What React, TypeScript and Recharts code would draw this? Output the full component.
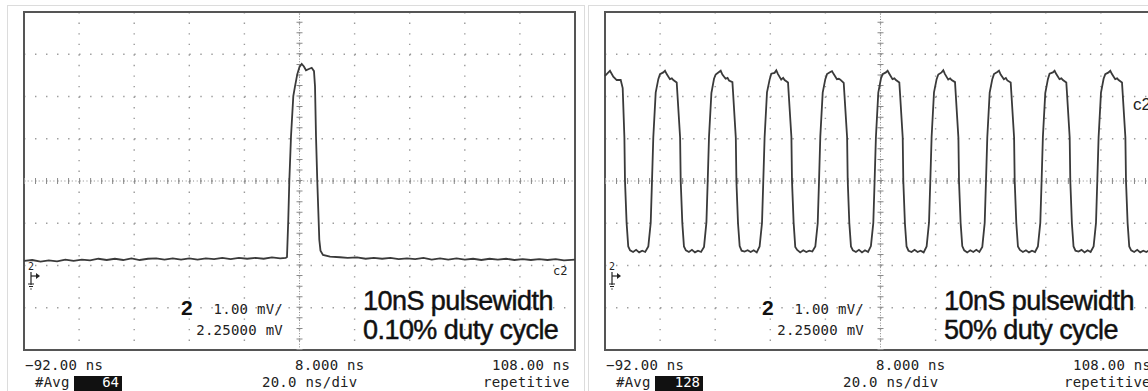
import { LineChart, Line, XAxis, YAxis, CartesianGrid, ReferenceLine, ReferenceArea } from 'recharts';

// 20 ns/div, centred on 8 ns; 1 mV/div, offset 2.25 mV
const timeTicks = [-92, -72, -52, -32, -12, 8, 28, 48, 68, 88, 108];
const voltTicks = [-1.75, -0.75, 0.25, 1.25, 2.25, 3.25, 4.25, 5.25, 6.25];

// single 10 ns pulse, 0.10% duty (ns, mV)
const lowDutyTrace: [number, number][] = [
  [-92, 0.36], [-89, 0.38], [-86, 0.34], [-83, 0.37], [-80, 0.35], [-77, 0.39], [-74, 0.36],
  [-71, 0.39], [-68, 0.37], [-65, 0.41], [-62, 0.38], [-59, 0.41], [-56, 0.38], [-53, 0.42],
  [-50, 0.38], [-47, 0.41], [-44, 0.42], [-41, 0.39], [-38, 0.42], [-35, 0.39], [-32, 0.42],
  [-29, 0.39], [-26, 0.42], [-23, 0.40], [-20, 0.43], [-17, 0.40], [-14, 0.43], [-11, 0.41],
  [-8, 0.43], [-5, 0.41], [-2, 0.44], [1, 0.42], [3.0, 0.43],
  [3.46, 0.45], [3.93, 1.34], [4.3, 2.24], [4.92, 3.31], [5.75, 4.26], [6.37, 4.49], [7.2, 4.78],
  [8.0, 4.95], [8.8, 5.02], [9.6, 4.96], [10.36, 4.87], [11.4, 4.9], [12.43, 4.93], [13.26, 4.85],
  [13.63, 4.49], [13.99, 3.31], [14.46, 2.24], [15.19, 0.86], [15.62, 0.6], [16.53, 0.5],
  [19.07, 0.46], [22.7, 0.445], [25.5, 0.43], [28.87, 0.44],
  [32, 0.41], [35, 0.43], [38, 0.41], [41, 0.43], [44, 0.40], [47, 0.42], [50, 0.40], [53, 0.43],
  [56, 0.39], [59, 0.42], [62, 0.39], [65, 0.42], [68, 0.39], [71, 0.41], [74, 0.38], [77, 0.41],
  [80, 0.39], [83, 0.41], [86, 0.38], [89, 0.40], [92, 0.38], [95, 0.40], [98, 0.38], [101, 0.40],
  [104, 0.37], [108, 0.39],
];

// 10 ns pulses, 50% duty (ns, mV)
const halfDutyTrace: [number, number][] = [
  [-92, 4.74], [-91.38, 4.78], [-90.19, 4.86], [-88.99, 4.72], [-87.75, 4.64], [-86.3, 4.64],
  [-85.58, 4.45], [-84.96, 3.28], [-84.74, 2.25], [-84.16, 1.26], [-83.56, 0.7],
  [-82.9, 0.61], [-81.8, 0.57], [-80.7, 0.62], [-79.6, 0.56], [-78.5, 0.6], [-77.4, 0.57],
  // cycle 1
  [-76.28, 0.7], [-75.41, 1.26], [-74.94, 2.25], [-74.47, 3.28], [-73.6, 4.34], [-72.65, 4.66],
  [-72.04, 4.78], [-70.84, 4.82], [-70.22, 4.86], [-69.61, 4.78], [-68.44, 4.66], [-67.74, 4.68],
  [-67.2, 4.64], [-65.97, 4.58], [-65.74, 4.34], [-64.74, 3.28], [-64.52, 2.25], [-63.94, 1.26],
  [-63.34, 0.7], [-62.64, 0.61], [-61.54, 0.57], [-60.44, 0.62], [-59.34, 0.56], [-58.24, 0.6],
  [-57.14, 0.57],
  // cycle 2
  [-56.06, 0.69], [-55.19, 1.27], [-54.72, 2.25], [-54.25, 3.29], [-53.38, 4.33], [-52.43, 4.67],
  [-51.82, 4.77], [-50.62, 4.83], [-50.0, 4.86], [-49.39, 4.77], [-48.22, 4.67], [-47.52, 4.69],
  [-46.98, 4.63], [-45.75, 4.59], [-45.52, 4.35], [-44.52, 3.27], [-44.3, 2.24], [-43.72, 1.25],
  [-43.12, 0.71], [-42.42, 0.6], [-41.32, 0.58], [-40.22, 0.61], [-39.12, 0.57], [-38.02, 0.61],
  [-36.92, 0.56],
  // cycle 3
  [-35.88, 0.7], [-35.01, 1.26], [-34.54, 2.26], [-34.07, 3.28], [-33.2, 4.35], [-32.25, 4.65],
  [-31.64, 4.79], [-30.44, 4.81], [-29.82, 4.87], [-29.21, 4.78], [-28.04, 4.65], [-27.34, 4.69],
  [-26.8, 4.64], [-25.57, 4.58], [-25.34, 4.34], [-24.34, 3.29], [-24.12, 2.25], [-23.54, 1.27],
  [-22.94, 0.69], [-22.24, 0.62], [-21.14, 0.56], [-20.04, 0.61], [-18.94, 0.57], [-17.84, 0.6],
  [-16.74, 0.58],
  // cycle 4
  [-15.66, 0.7], [-14.79, 1.25], [-14.32, 2.24], [-13.85, 3.3], [-12.98, 4.34], [-12.03, 4.66],
  [-11.42, 4.78], [-10.22, 4.83], [-9.6, 4.85], [-8.99, 4.78], [-7.82, 4.66], [-7.12, 4.67],
  [-6.58, 4.65], [-5.35, 4.57], [-5.12, 4.33], [-4.12, 3.28], [-3.9, 2.26], [-3.32, 1.26],
  [-2.72, 0.7], [-2.02, 0.61], [-0.92, 0.57], [0.18, 0.62], [1.28, 0.56], [2.38, 0.61],
  [3.48, 0.57],
  // cycle 5
  [4.52, 0.71], [5.39, 1.26], [5.86, 2.25], [6.33, 3.28], [7.2, 4.34], [8.15, 4.67],
  [8.76, 4.78], [9.96, 4.82], [10.58, 4.86], [11.19, 4.79], [12.36, 4.66], [13.06, 4.68],
  [13.6, 4.64], [14.83, 4.58], [15.06, 4.35], [16.06, 3.28], [16.28, 2.25], [16.86, 1.25],
  [17.46, 0.7], [18.16, 0.6], [19.26, 0.57], [20.36, 0.62], [21.46, 0.57], [22.56, 0.6],
  [23.66, 0.56],
  // cycle 6
  [24.74, 0.7], [25.61, 1.27], [26.08, 2.25], [26.55, 3.29], [27.42, 4.35], [28.37, 4.66],
  [28.98, 4.77], [30.18, 4.82], [30.8, 4.87], [31.41, 4.78], [32.58, 4.65], [33.28, 4.68],
  [33.82, 4.64], [35.05, 4.59], [35.28, 4.34], [36.28, 3.27], [36.5, 2.24], [37.08, 1.26],
  [37.68, 0.71], [38.38, 0.61], [39.48, 0.56], [40.58, 0.61], [41.68, 0.57], [42.78, 0.62],
  [43.88, 0.57],
  // cycle 7
  [44.95, 0.69], [45.82, 1.26], [46.29, 2.25], [46.76, 3.28], [47.63, 4.34], [48.58, 4.66],
  [49.19, 4.78], [50.39, 4.83], [51.01, 4.86], [51.62, 4.77], [52.79, 4.66], [53.49, 4.69],
  [54.03, 4.63], [55.26, 4.58], [55.49, 4.34], [56.49, 3.28], [56.71, 2.25], [57.29, 1.26],
  [57.89, 0.7], [58.59, 0.62], [59.69, 0.57], [60.79, 0.61], [61.89, 0.56], [62.99, 0.6],
  [64.09, 0.57],
  // cycle 8
  [65.13, 0.7], [66.0, 1.26], [66.47, 2.24], [66.94, 3.29], [67.81, 4.33], [68.76, 4.66],
  [69.37, 4.79], [70.57, 4.82], [71.19, 4.86], [71.8, 4.78], [72.97, 4.66], [73.67, 4.68],
  [74.21, 4.64], [75.44, 4.58], [75.67, 4.35], [76.67, 3.28], [76.89, 2.26], [77.47, 1.25],
  [78.07, 0.7], [78.77, 0.6], [79.87, 0.58], [80.97, 0.62], [82.07, 0.56], [83.17, 0.61],
  [84.27, 0.57],
  // cycle 9
  [85.35, 0.7], [86.22, 1.26], [86.69, 2.25], [87.16, 3.28], [88.03, 4.34], [88.98, 4.67],
  [89.59, 4.78], [90.79, 4.82], [91.41, 4.86], [92.02, 4.78], [93.19, 4.66], [93.89, 4.68],
  [94.43, 4.64], [95.66, 4.58], [95.89, 4.34], [96.89, 3.28], [97.11, 2.25], [97.69, 1.26],
  [98.29, 0.7], [98.99, 0.61], [100.09, 0.57], [101.19, 0.62], [102.29, 0.56], [103.39, 0.6],
  [104.49, 0.57], [105.59, 0.61], [106.69, 0.57], [108, 0.6],
];

const mono = '"DejaVu Sans Mono", monospace';
const sans = '"Liberation Sans", Arial, sans-serif';
const ink = '#3a3a3a';
const dots = '#9a9a9a';

type PanelProps = {
  left: number;
  trace: [number, number][];
  avgCount: string;
  dutyLabel: string;
  tagY: number;
  tagBig: boolean;
};

function ScopePanel({ left, trace, avgCount, dutyLabel, tagY, tagBig }: PanelProps) {
  const data = trace.map(([t, v]) => ({ t, v }));
  return (
    <div style={{ position: 'absolute', left, top: 0, width: 600, height: 391 }}>
      <svg width={600} height={391} style={{ position: 'absolute', left: 0, top: 0 }}>
        <rect x={7.5} y={5.5} width={577} height={420} fill="none" stroke="#dcdcdc" />
      </svg>
      <div style={{ position: 'absolute', left: 0, top: 0 }}>
        <LineChart width={600} height={391} data={data} margin={{ top: 12, right: 25, bottom: 41, left: 24 }}>
          <XAxis type="number" dataKey="t" domain={[-92, 108]} ticks={timeTicks} hide />
          <YAxis type="number" domain={[-1.75, 6.25]} ticks={voltTicks} hide />
          <CartesianGrid horizontal={false} stroke={dots} strokeWidth={1.4} strokeDasharray="1.4 9.165" />
          <CartesianGrid vertical={false} stroke={dots} strokeWidth={1.4} strokeDasharray="1.4 9.62" />
          <ReferenceLine y={2.25} stroke="#8a8a8a" strokeDasharray="1 2.675" />
          <ReferenceLine y={2.25} stroke="#8a8a8a" strokeWidth={6} strokeDasharray="1 10.02" />
          <ReferenceLine x={8} stroke="#8a8a8a" strokeDasharray="1 1.64" />
          <ReferenceLine x={8} stroke="#8a8a8a" strokeWidth={6} strokeDasharray="1 9.56" />
          <ReferenceArea x1={-92} x2={108} y1={-1.75} y2={6.25} fill="none" stroke="#555" strokeWidth={2} fillOpacity={0} />
          <Line type="linear" dataKey="v" stroke={ink} strokeWidth={1.8} dot={false} isAnimationActive={false} />
        </LineChart>
      </div>
      <svg width={600} height={391} style={{ position: 'absolute', left: 0, top: 0, pointerEvents: 'none' }}>
        <g fill="#222" fontFamily={mono} fontSize={14} letterSpacing={0.25}>
          <text x={25} y={370}>−92.00 ns</text>
          <text x={295} y={370}>8.000 ns</text>
          <text x={492} y={370}>108.00 ns</text>
          <text x={35} y={387}>#Avg</text>
          <text x={262} y={387}>20.0 ns/div</text>
          <text x={483} y={387}>repetitive</text>
          <text x={283} y={314} textAnchor="end">1.00 mV/</text>
          <text x={283} y={335} textAnchor="end">2.25000 mV</text>
        </g>
        <rect x={74} y={376} width={48} height={15} fill="#111" />
        <text x={119} y={387} fill="#fff" fontFamily={mono} fontSize={14} textAnchor="end">{avgCount}</text>
        <text x={181} y={315} fill="#111" fontFamily={sans} fontSize={21} fontWeight="bold">2</text>
        <g fill="#111" stroke="#111" strokeWidth={0.45} fontFamily={sans} fontSize={27} letterSpacing={-0.55}>
          <text x={363} y={310}>10nS pulsewidth</text>
          <text x={363} y={339}>{dutyLabel}</text>
        </g>
        {tagBig ? (
          <text x={552} y={tagY} fill="#222" fontFamily={sans} fontSize={17}>c2</text>
        ) : (
          <text x={553} y={tagY} fill="#222" fontFamily={mono} fontSize={12}>c2</text>
        )}
        <text x={28} y={270} fill="#222" fontFamily={mono} fontSize={10}>2</text>
        <g stroke="#222" strokeWidth={1.2} fill="none">
          <path d="M31 272 V285" />
          <path d="M31 276 H37" />
          <path d="M28 284 H34 M29 286.5 H33 M30.3 289 H31.7" />
        </g>
        <path d="M36 273 L40 276 L36 279 Z" fill="#222" />
      </svg>
    </div>
  );
}

export default function App() {
  return (
    <div style={{ position: 'absolute', left: 0, top: 0, width: 1148, height: 391, overflow: 'hidden', background: '#fff' }}>
      <ScopePanel left={0} trace={lowDutyTrace} avgCount="64" dutyLabel="0.10% duty cycle" tagY={275} tagBig={false} />
      <ScopePanel left={581} trace={halfDutyTrace} avgCount="128" dutyLabel="50% duty cycle" tagY={110} tagBig />
    </div>
  );
}
